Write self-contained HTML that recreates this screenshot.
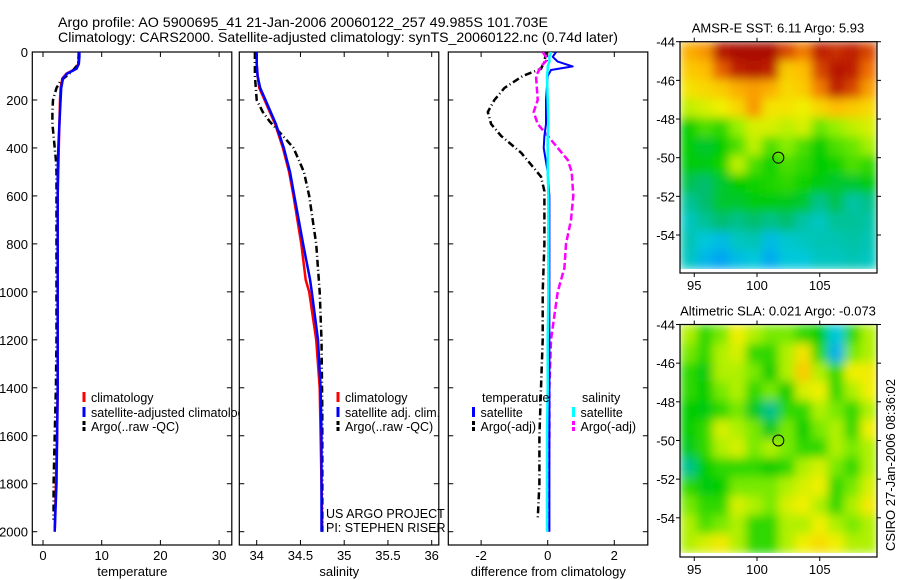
<!DOCTYPE html>
<html><head><meta charset="utf-8">
<style>
html,body{margin:0;padding:0;background:#fff;}
svg{display:block;font-family:"Liberation Sans",sans-serif;}
</style></head>
<body>
<svg id="fig" width="900" height="580" viewBox="0 0 900 580" xmlns="http://www.w3.org/2000/svg">
<defs>
<clipPath id="c1"><rect x="32" y="52" width="200" height="493"/></clipPath>
<clipPath id="c2"><rect x="239" y="52" width="200" height="493"/></clipPath>
<clipPath id="c3"><rect x="448" y="52" width="200" height="493"/></clipPath>
<clipPath id="cleg1"><rect x="32" y="380" width="207" height="60"/></clipPath>
<clipPath id="cm1"><rect x="680" y="41.7" width="197" height="227.3"/></clipPath>
<clipPath id="cm2"><rect x="680" y="324.5" width="197" height="228.5"/></clipPath>
<filter id="smooth" x="0" y="0" width="1" height="1"><feGaussianBlur stdDeviation="5" edgeMode="duplicate"/></filter>
</defs>
<g font-size="14">
<text x="58" y="27" textLength="490" lengthAdjust="spacingAndGlyphs">Argo profile: AO 5900695_41 21-Jan-2006 20060122_257 49.985S 101.703E</text>
<text x="58" y="42" textLength="560" lengthAdjust="spacingAndGlyphs">Climatology: CARS2000. Satellite-adjusted climatology: synTS_20060122.nc (0.74d later)</text>
</g>
<g id="root"></g>
<text font-size="13" transform="translate(895,465) rotate(-90)" text-anchor="middle">CSIRO 27-Jan-2006 08:36:02</text>
</svg>
<script>
// ---------- data ----------
const depthTC = [0,20,50,70,90,110,150,200,300,400,500,600,800,1000,1200,1400,1600,1800,2000];
const tempClim = [6.1,6.1,6.0,5.6,4.0,3.3,3.0,2.9,2.8,2.7,2.6,2.5,2.5,2.5,2.5,2.5,2.4,2.2,2.0];
const tempSat  = [6.2,6.2,6.1,5.7,4.1,3.4,3.1,3.0,2.8,2.6,2.5,2.5,2.5,2.5,2.5,2.5,2.4,2.3,2.0];
const depthTA = [0,50,80,100,120,150,200,250,300,350,400,450,500,600,800,1000,1200,1400,1600,1800,1950];
const tempArgo = [6.1,6.0,5.0,4.0,3.0,2.3,1.7,1.6,1.6,1.8,2.0,2.2,2.3,2.3,2.3,2.3,2.3,2.2,2.0,1.8,1.8];
const depthS = [0,50,100,150,200,300,400,500,600,800,950,1000,1200,1400,1600,1800,2000];
const salClim = [34.0,34.0,34.01,34.03,34.09,34.21,34.3,34.37,34.42,34.51,34.56,34.6,34.68,34.72,34.73,34.74,34.75];
const salSat  = [34.0,34.0,34.01,34.04,34.1,34.22,34.31,34.38,34.43,34.53,34.61,34.63,34.7,34.73,34.74,34.74,34.74];
const depthSA = [0,100,200,250,290,350,400,500,600,800,1000,1200,1500,2000];
const salArgo = [33.98,33.98,34.0,34.07,34.15,34.3,34.42,34.54,34.6,34.68,34.72,34.74,34.75,34.75];
const depthD = [0,20,40,60,75,100,200,300,350,400,500,600,800,1000,1200,1400,1600,1800,2000];
const dTempSat = [0.25,0.15,0.3,0.75,0.1,0.0,-0.05,-0.05,-0.1,-0.12,0.0,0.05,0.05,0.05,0.05,0.05,0.05,0.05,0.05];
const dSalSat  = [0.1,0.05,0.05,0.0,0.0,-0.02,0.0,0.02,0.0,0.0,0.0,0.02,0.02,0.02,0.0,0.0,-0.02,-0.02,-0.02];
const depthDA = [0,40,70,100,150,200,250,300,350,420,470,520,580,800,1000,1200,1400,1600,1800,1950];
const dTempArgo = [-0.05,-0.1,-0.2,-0.75,-1.3,-1.6,-1.8,-1.7,-1.4,-0.8,-0.5,-0.2,-0.1,-0.1,-0.15,-0.15,-0.2,-0.25,-0.25,-0.3];
const depthDS = [0,30,60,100,200,250,300,350,400,450,500,600,700,800,900,1000,1200,1400,1600,2000];
const dSalArgo = [-0.15,0.0,-0.2,-0.35,-0.3,-0.42,-0.3,0.0,0.3,0.6,0.72,0.77,0.7,0.55,0.5,0.3,0.1,0.05,0.05,0.0];
const depthTicks = [0,200,400,600,800,1000,1200,1400,1600,1800,2000];
const tempTicks = [0,10,20,30];
const salTicks = [34,34.5,35,35.5,36];
const diffTicks = [-2,0,2];
const lonTicks = [95,100,105];
const latTicks = [-44,-46,-48,-50,-52,-54];
const sstGrid = [
[.72,.75,.92,.95,.95,.95,.85,.78,.9,.88,.9,.85],
[.68,.7,.82,.9,.92,.9,.68,.7,.85,.92,.9,.8],
[.64,.66,.68,.72,.74,.72,.66,.68,.78,.9,.85,.74],
[.58,.6,.62,.66,.75,.64,.64,.62,.66,.7,.68,.66],
[.45,.5,.48,.55,.6,.6,.58,.6,.52,.55,.58,.6],
[.45,.42,.45,.5,.58,.5,.54,.5,.45,.5,.52,.56],
[.44,.44,.46,.58,.5,.46,.5,.48,.45,.46,.5,.48],
[.4,.38,.42,.45,.46,.47,.48,.46,.44,.42,.42,.44],
[.35,.38,.42,.42,.44,.44,.43,.42,.36,.4,.34,.36],
[.32,.35,.38,.36,.38,.36,.38,.34,.32,.35,.35,.34],
[.33,.3,.28,.32,.33,.28,.31,.32,.33,.33,.34,.33],
[.32,.27,.24,.28,.3,.25,.3,.3,.32,.32,.33,.32]];
const slaGrid = [
[.57,.48,.53,.62,.57,.53,.53,.48,.45,.3,.48,.57],
[.53,.48,.57,.6,.48,.48,.57,.64,.48,.26,.53,.57],
[.48,.44,.57,.57,.53,.45,.57,.68,.57,.48,.62,.63],
[.48,.45,.53,.57,.48,.53,.45,.6,.62,.48,.57,.62],
[.45,.44,.48,.53,.43,.36,.48,.48,.57,.53,.48,.57],
[.45,.48,.6,.57,.53,.43,.53,.45,.53,.57,.48,.62],
[.43,.48,.57,.6,.53,.57,.53,.48,.48,.57,.53,.57],
[.36,.45,.48,.48,.48,.45,.48,.57,.6,.53,.48,.57],
[.48,.44,.45,.53,.53,.53,.57,.6,.62,.48,.53,.6],
[.53,.48,.48,.6,.57,.53,.6,.62,.57,.48,.57,.63],
[.57,.5,.53,.57,.48,.48,.57,.57,.62,.57,.53,.57],
[.57,.6,.63,.57,.48,.48,.57,.62,.65,.62,.57,.57]];
const argoLon = [101.7];
const argoLat = [-50.0];

// ---------- helpers ----------
const NS = "http://www.w3.org/2000/svg";
const root = document.getElementById('root');
function mk(tag, attrs, parent){const e=document.createElementNS(NS,tag);for(const k in attrs)e.setAttribute(k,attrs[k]);(parent||root).appendChild(e);return e;}
const yDepth = d => 52 + d*0.23985;
const xTemp = v => 43 + (v-0)*5.87;
const xSal = v => 256.7 + (v-34)*87.5;
const xDiff = v => 547.7 + v*33.3;

function line(g, depths, vals, xf, color, w, dash, name){
  const pts = depths.map((d,i)=>xf(vals[i]).toFixed(1)+','+yDepth(d).toFixed(1)).join(' ');
  const p = mk('polyline',{points:pts,fill:'none',stroke:color,'stroke-width':w,'stroke-linejoin':'round'},g);
  if(dash) p.setAttribute('stroke-dasharray',dash);
  
  
}

function panel(x0, name, clip, ticks, xf, xlabel, ylabels){
  const g = mk('g',{});
  
  
  mk('rect',{x:x0,y:52,width:199.5,height:493,fill:'none',stroke:'#000','stroke-width':1.2},g);
  depthTicks.forEach(d=>{
    const y=yDepth(d);
    mk('line',{x1:x0,x2:x0+5,y1:y,y2:y,stroke:'#000'},g);
    mk('line',{x1:x0+199.5,x2:x0+194.5,y1:y,y2:y,stroke:'#000'},g);
    if(ylabels){const t=mk('text',{x:28,y:y+5,'font-size':13,'text-anchor':'end'},g);t.textContent=d;
      
      }
  });
  ticks.forEach(v=>{
    const x=xf(v);
    mk('line',{x1:x,x2:x,y1:52,y2:57,stroke:'#000'},g);
    mk('line',{x1:x,x2:x,y1:545,y2:540,stroke:'#000'},g);
    const t=mk('text',{x:x,y:560,'font-size':13,'text-anchor':'middle'},g);t.textContent=v;
    
    
  });
  const xl=mk('text',{x:x0+100,y:576,'font-size':13,'text-anchor':'middle'},g);xl.textContent=xlabel;
  
  
  const lg = mk('g',{'clip-path':'url(#'+clip+')'},g);
  return lg;
}
function legendEntry(parent, x, y, color, dash, label, name){
  const g = mk('g',{},parent);
  
  
  if(color) mk('line',{x1:x,x2:x,y1:y-5,y2:y+5,stroke:color,'stroke-width':3,'stroke-dasharray':dash||'none'},g);
  const t=mk('text',{x:x+7,y:y+5,'font-size':12.5},g);t.textContent=label;
}

// ---------- temperature panel ----------
const p1 = panel(32.3,'temperature-panel','c1',tempTicks,xTemp,'temperature',true);
line(p1,depthTC,tempClim,xTemp,'#f00',2.5,null,'temp-climatology-line');
line(p1,depthTA,tempArgo,xTemp,'#000',2.5,'7,3,1,3','temp-argo-line');
line(p1,depthTC,tempSat,xTemp,'#00f',2.5,null,'temp-satellite-line');
const lg1 = mk('g',{'clip-path':'url(#cleg1)'});


legendEntry(lg1,84,397,'#f00',null,'climatology','legend-climatology');
legendEntry(lg1,84,412,'#00f',null,'satellite-adjusted climatology','legend-satellite-adjusted');
legendEntry(lg1,84,426,'#000','4,2','Argo(..raw -QC)','legend-argo');

// ---------- salinity panel ----------
const p2 = panel(239.3,'salinity-panel','c2',salTicks,xSal,'salinity',false);
line(p2,depthS,salClim,xSal,'#f00',2.5,null,'sal-climatology-line');
line(p2,depthSA,salArgo,xSal,'#000',2.5,'7,3,1,3','sal-argo-line');
line(p2,depthS,salSat,xSal,'#00f',2.5,null,'sal-satellite-line');
const lg2 = mk('g',{});


legendEntry(lg2,338,397,'#f00',null,'climatology','legend-climatology');
legendEntry(lg2,338,412,'#00f',null,'satellite adj. clim.','legend-satellite-adj');
legendEntry(lg2,338,426,'#000','4,2','Argo(..raw -QC)','legend-argo');
const cr = mk('g',{'font-size':12.5});


mk('text',{x:326,y:518},cr).textContent='US ARGO PROJECT';
mk('text',{x:326,y:532},cr).textContent='PI: STEPHEN RISER';

// ---------- difference panel ----------
const p3 = panel(448.3,'difference-panel','c3',diffTicks,xDiff,'difference from climatology',false);
line(p3,depthD,dTempSat.map(()=>0),xDiff,'#000',0.8,'1,3','zero-line');
line(p3,depthDA,dTempArgo,xDiff,'#000',2.5,'7,3,1,3','diff-temp-argo-line');
line(p3,depthDS,dSalArgo,xDiff,'#f0f',2.5,'7,3','diff-sal-argo-line');
line(p3,depthD,dTempSat,xDiff,'#00f',2,null,'diff-temp-satellite-line');
line(p3,depthD,dSalSat,xDiff,'#0ff',2.5,null,'diff-sal-satellite-line');
const lg3 = mk('g',{});


legendEntry(lg3,475,397,null,null,'temperature','legend-temperature-heading');
legendEntry(lg3,473.5,412,'#00f',null,'satellite','legend-temp-satellite');
legendEntry(lg3,473.5,426,'#000','4,2','Argo(-adj)','legend-temp-argo');
legendEntry(lg3,575,397,null,null,'salinity','legend-salinity-heading');
legendEntry(lg3,573.5,412,'#0ff',null,'satellite','legend-sal-satellite');
legendEntry(lg3,573.5,426,'#f0f','4,2','Argo(-adj)','legend-sal-argo');

// ---------- maps ----------
const cmapStops=[[0.2,[0,140,255]],[0.3,[0,200,220]],[0.38,[0,190,110]],[0.45,[0,205,0]],[0.55,[150,240,0]],[0.62,[240,240,0]],[0.7,[255,190,0]],[0.8,[240,110,0]],[0.9,[190,30,0]],[1.0,[150,0,0]]];
function cmap(v){
  if(v<=cmapStops[0][0]) return 'rgb('+cmapStops[0][1]+')';
  for(let i=1;i<cmapStops.length;i++){
    if(v<=cmapStops[i][0]){const a=cmapStops[i-1],b=cmapStops[i];const t=(v-a[0])/(b[0]-a[0]);
      return 'rgb('+a[1].map((c,k)=>Math.round(c+(b[1][k]-c)*t)).join(',')+')';}
  }
  return 'rgb(150,0,0)';
}
function mapPanel(top, bottomImg, frameBottom, grid, title, clip, name){
  const xLon = lon => 757 + (lon-100)*12.55;
  const yLat = lat => top + (-44-lat)*19.33;
  const g = mk('g',{});
  
  
  const cg = mk('g',{'clip-path':'url(#'+clip+')'},g);
  const fg = mk('g',{filter:'url(#smooth)'},cg);
  const rows=grid.length, cols=grid[0].length;
  const cw=197/cols, ch=(bottomImg-top)/rows;
  grid.forEach((row,r)=>row.forEach((v,c)=>{
    mk('rect',{x:(680+c*cw).toFixed(2),y:(top+r*ch).toFixed(2),width:(cw+0.6).toFixed(2),height:(ch+0.6).toFixed(2),fill:cmap(v)},fg);
  }));
  argoLon.forEach((lon,i)=>{
    const c=mk('circle',{cx:xLon(lon),cy:yLat(argoLat[i]),r:5.5,fill:'none',stroke:'#000','stroke-width':1},g);
    
    
  });
  mk('rect',{x:680,y:top,width:197,height:frameBottom-top,fill:'none',stroke:'#000','stroke-width':1.2},g);
  lonTicks.forEach(l=>{
    const x=xLon(l);
    mk('line',{x1:x,x2:x,y1:top,y2:top-4,stroke:'#000'},g);
    mk('line',{x1:x,x2:x,y1:frameBottom,y2:frameBottom+4,stroke:'#000'},g);
    const t=mk('text',{x:x,y:frameBottom+17,'font-size':13,'text-anchor':'middle'},g);t.textContent=l;
    
    
  });
  latTicks.forEach(l=>{
    const y=yLat(l);
    mk('line',{x1:680,x2:676,y1:y,y2:y,stroke:'#000'},g);
    mk('line',{x1:877,x2:881,y1:y,y2:y,stroke:'#000'},g);
    const t=mk('text',{x:675,y:y+5,'font-size':13,'text-anchor':'end'},g);t.textContent=l;
    
    
  });
  const tt=mk('text',{x:778,y:top-9,'font-size':13,'text-anchor':'middle'},g);tt.textContent=title;
  
  
}
mapPanel(41.7,269,273,sstGrid,'AMSR-E SST: 6.11 Argo: 5.93','cm1','sst-map');
mapPanel(324.5,553,557,slaGrid,'Altimetric SLA: 0.021 Argo: -0.073','cm2','sla-map');
</script>
</body></html>
